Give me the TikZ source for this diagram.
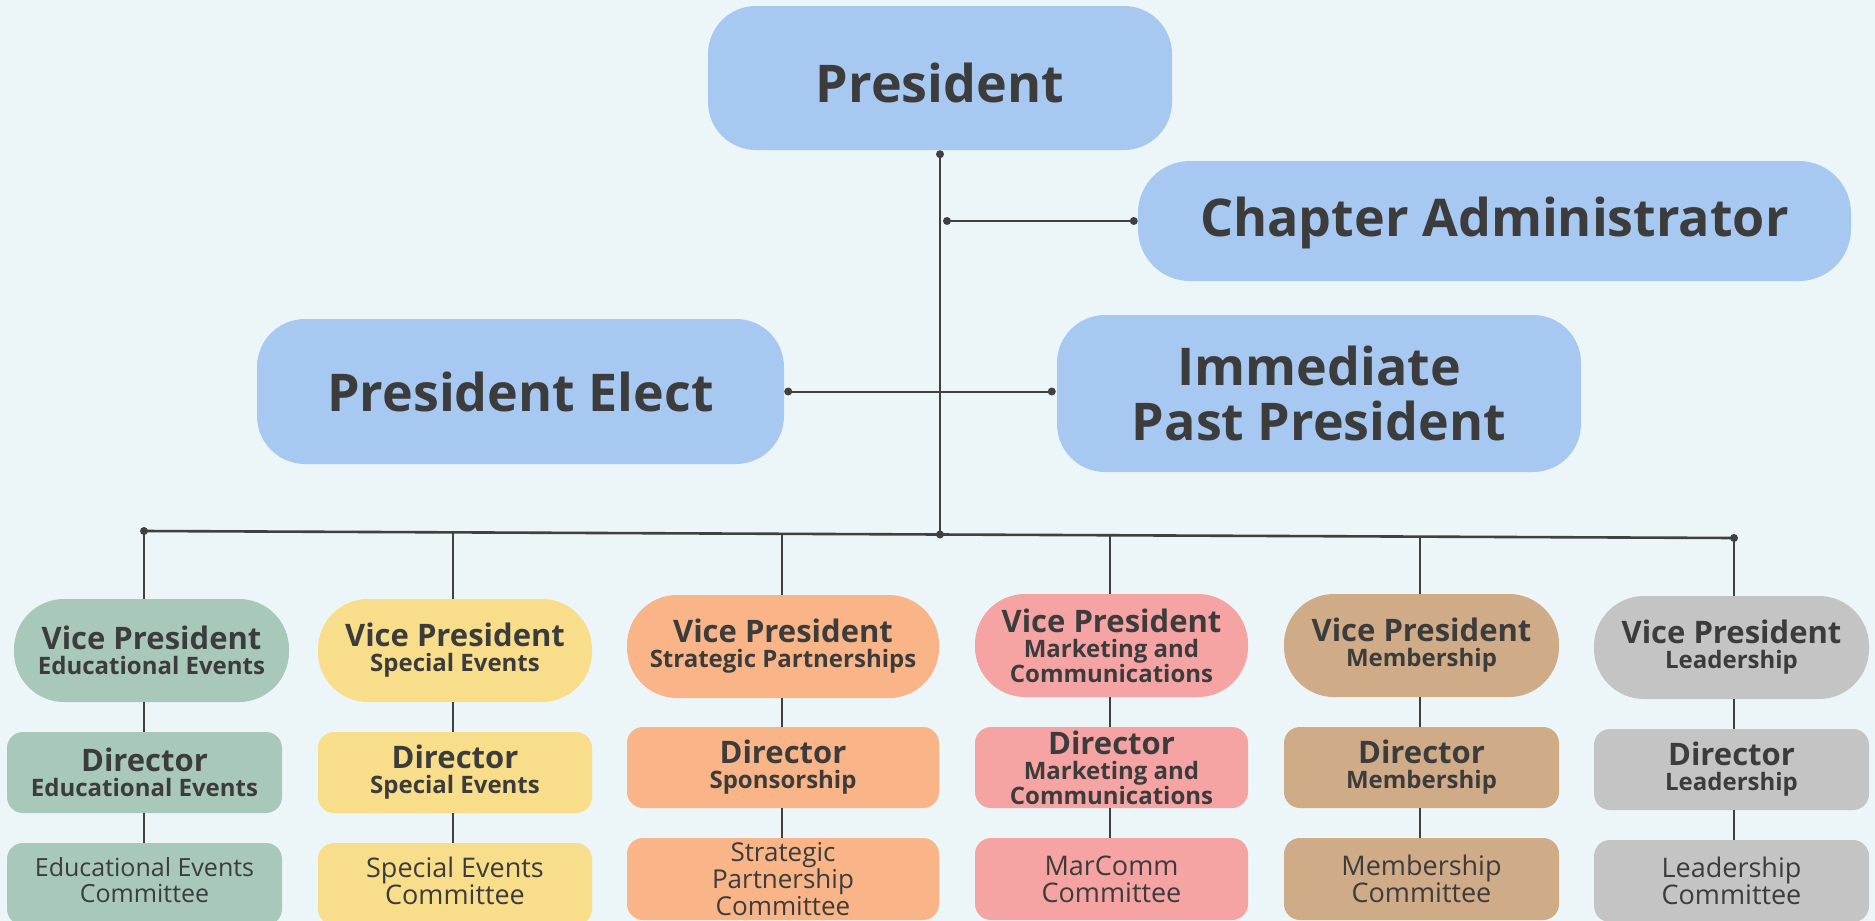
\documentclass[tikz,border=0pt]{standalone}
\usepackage{fontspec}
\setmainfont{Open Sans}
\usetikzlibrary{calc}
\definecolor{bg}{HTML}{ECF5F7}
\definecolor{blueone}{HTML}{A7C8F1}
\definecolor{greenone}{HTML}{A8C9BA}
\definecolor{yellowone}{HTML}{F8DE8A}
\definecolor{orangeone}{HTML}{F9B587}
\definecolor{pinkone}{HTML}{F6A3A3}
\definecolor{tanone}{HTML}{D0AB87}
\definecolor{greyone}{HTML}{C4C4C4}
\definecolor{txt}{HTML}{3C3C3C}
\definecolor{ln}{HTML}{404040}
\newcommand\vptitle[1]{{\fontsize{31}{25}\selectfont #1}}
\newcommand\lowertext[2]{\raisebox{-#1}[\height][\depth]{#2}}
\begin{document}
\begin{tikzpicture}[x=1pt,y=-1pt,
  box/.style={inner sep=0pt, align=center, text=txt},
  topbox/.style={box, fill=blueone, rounded corners=48pt, font=\bfseries\fontsize{52}{55}\selectfont},
  vpbox/.style={box, rounded corners=50pt, font=\bfseries\fontsize{24}{25}\selectfont, minimum height=103pt},
  dirbox/.style={box, rounded corners=16pt, font=\bfseries\fontsize{24}{25}\selectfont, minimum height=81pt},
  combox/.style={box, rounded corners=16pt, font=\fontsize{27}{27}\selectfont, minimum height=82pt},
  conn/.style={draw=ln, line width=2pt},
  busline/.style={draw=ln, line width=2.6pt},
  thinline/.style={draw=ln, line width=1.6pt},
]
\useasboundingbox (0,0) rectangle (1875,921);
\fill[bg] (0,0) rectangle (1875,921);

% top level
\node[topbox, minimum width=464pt, minimum height=144pt] (pres) at (940,78) {\lowertext{5pt}{President}};
\node[topbox, minimum width=713pt, minimum height=120pt, rounded corners=52pt] (chap) at (1494.5,221) {\lowertext{2pt}{Chapter Administrator}};
\node[topbox, minimum width=527pt, minimum height=145pt] (elect) at (520.5,391.5) {President Elect};
\node[topbox, minimum width=524pt, minimum height=157pt] (imm) at (1319,393.5) {Immediate\\Past President};

% vice presidents
\node[vpbox, fill=greenone, minimum width=275pt] (vp1) at (151.5,650.5) {\vptitle{Vice President}\\Educational Events};
\node[vpbox, fill=yellowone, minimum width=274pt] (vp2) at (455,650.5) {\vptitle{Vice President}\\Special Events};
\node[vpbox, fill=orangeone, minimum width=312pt] (vp3) at (783,646.5) {\vptitle{Vice President}\\Strategic Partnerships};
\node[vpbox, fill=pinkone, minimum width=273pt] (vp4) at (1111.5,645.5) {\vptitle{Vice President}\\Marketing and\\Communications};
\node[vpbox, fill=tanone, minimum width=275pt] (vp5) at (1421.5,645.5) {\vptitle{Vice President}\\Membership};
\node[vpbox, fill=greyone, minimum width=275pt] (vp6) at (1731.5,647.5) {\vptitle{Vice President}\\Leadership};

% directors
\node[dirbox, fill=greenone, minimum width=275pt] (dir1) at (144.5,772.5) {\vptitle{Director}\\Educational Events};
\node[dirbox, fill=yellowone, minimum width=274pt] (dir2) at (455,772.5) {\vptitle{Director}\\Special Events};
\node[dirbox, fill=orangeone, minimum width=312pt] (dir3) at (783,767.5) {\vptitle{Director}\\Sponsorship};
\node[dirbox, fill=pinkone, minimum width=273pt] (dir4) at (1111.5,767.5) {\vptitle{Director}\\Marketing and\\Communications};
\node[dirbox, fill=tanone, minimum width=275pt] (dir5) at (1421.5,767.5) {\vptitle{Director}\\Membership};
\node[dirbox, fill=greyone, minimum width=275pt] (dir6) at (1731.5,769.5) {\vptitle{Director}\\Leadership};

% committees
\node[combox, fill=greenone, minimum width=275pt, font=\fontsize{25}{26}\selectfont] (com1) at (144.5,884) {\lowertext{-4pt}{Educational Events}\\\lowertext{-4pt}{Committee}};
\node[combox, fill=yellowone, minimum width=274pt] (com2) at (455,884) {\lowertext{-3pt}{Special Events}\\\lowertext{-3pt}{Committee}};
\node[combox, fill=orangeone, minimum width=312pt, font=\fontsize{26}{25}\selectfont] (com3) at (783,879) {Strategic\\Partnership\\Committee};
\node[combox, fill=pinkone, minimum width=273pt] (com4) at (1111.5,879) {MarComm\\Committee};
\node[combox, fill=tanone, minimum width=275pt] (com5) at (1421.5,879) {Membership\\Committee};
\node[combox, fill=greyone, minimum width=275pt] (com6) at (1731.5,881) {Leadership\\Committee};

% connectors
\coordinate (t1) at ($(pres.south)+(0,4)$);
\coordinate (busL) at (144,531);
\coordinate (busR) at (1734,538);
\coordinate (tb) at ($(busL)!0.5!(busR)$);
\draw[conn] (t1) -- (t1 |- tb);
\coordinate (c1) at ($(t1 |- chap.west)+(7,0)$);
\coordinate (c2) at ($(chap.west)+(-4,0)$);
\draw[conn] (c1) -- (c2);
\coordinate (e1) at ($(elect.east)+(4,0)$);
\coordinate (e2) at ($(e1 -| imm.west)+(-5,0)$);
\draw[conn] (e1) -- (e2);
\draw[busline] (busL) -- (busR);
\foreach \i/\t in {1/0,2/0.1943,3/0.4013,4/0.6075,5/0.8025,6/1}{
  \coordinate (d\i) at ($(busL)!\t!(busR)$);
  \draw[thinline] (d\i) -- (d\i |- vp\i.north);
  \draw[thinline] (d\i |- vp\i.south) -- (d\i |- dir\i.north);
  \draw[thinline] (d\i |- dir\i.south) -- (d\i |- com\i.north);
}
\foreach \p in {t1,c1,c2,e1,e2,busL,busR}{
  \fill[ln] (\p) circle (4pt);
}
\fill[ln] (t1 |- tb) circle (4pt);
\end{tikzpicture}
\end{document}
